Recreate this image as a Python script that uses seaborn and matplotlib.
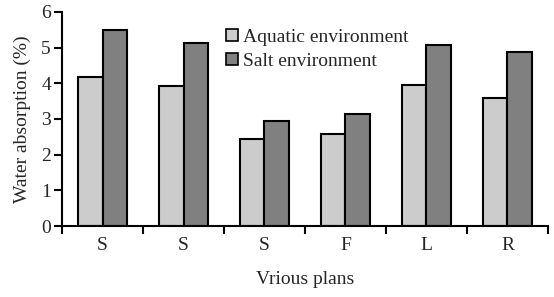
import matplotlib
matplotlib.use("Agg")
import matplotlib.pyplot as plt
import seaborn as sns
import pandas as pd
import numpy as np
from matplotlib.patches import Patch

plans = ["S", "S", "S", "F", "L", "R"]
aquatic = [4.17, 3.92, 2.44, 2.58, 3.96, 3.60]
salt = [5.50, 5.14, 2.94, 3.13, 5.07, 4.87]
series = ["Aquatic environment", "Salt environment"]
colors = ["#cccccc", "#808080"]

# plan labels repeat, so index by position
n = len(plans)
df = pd.DataFrame({
    "pos": list(range(n)) * 2,
    "value": aquatic + salt,
    "env": [series[0]] * n + [series[1]] * n,
})

sns.set_style("white")
plt.rcParams["font.family"] = ["Liberation Serif", "DejaVu Serif"]

fig = plt.figure(figsize=(5.54, 2.97), dpi=100)
ax = fig.add_axes([0.112, 0.239, 0.877, 0.721])

sns.barplot(data=df, x="pos", y="value", hue="env", palette=colors,
            width=0.6, edgecolor="black", linewidth=1.5, ax=ax, legend=False)

ax.set_ylim(0, 6)
ax.set_xlim(-0.5, n - 0.5)
ax.set_yticks(range(7))
ax.set_xticks(range(n))
ax.set_xticklabels(plans)
ax.set_xticks(np.arange(-0.5, n, 1.0), minor=True)
ax.tick_params(axis="x", which="major", bottom=False, length=0, pad=8, labelsize=14)
ax.tick_params(axis="x", which="minor", bottom=True, length=6, width=1.5, direction="out", color="black")
ax.tick_params(axis="y", left=True, length=6, width=1.5, direction="out", color="black",
               labelsize=14, pad=2)
ax.set_xlabel("Vrious plans", fontsize=14, labelpad=12)
ax.set_ylabel("Water absorption (%)", fontsize=14, labelpad=7)

for side in ["top", "right"]:
    ax.spines[side].set_visible(False)
for side in ["left", "bottom"]:
    ax.spines[side].set_linewidth(1.5)
    ax.spines[side].set_color("black")

handles = [Patch(facecolor=c, edgecolor="black", linewidth=1.2) for c in colors]
ax.legend(handles, series, loc="upper left", bbox_to_anchor=(0.31, 0.985),
          frameon=False, fontsize=14, handlelength=0.6, handleheight=0.6,
          handletextpad=0.25, labelspacing=0.35, borderaxespad=0.3)

fig.savefig("out.png", dpi=100)
